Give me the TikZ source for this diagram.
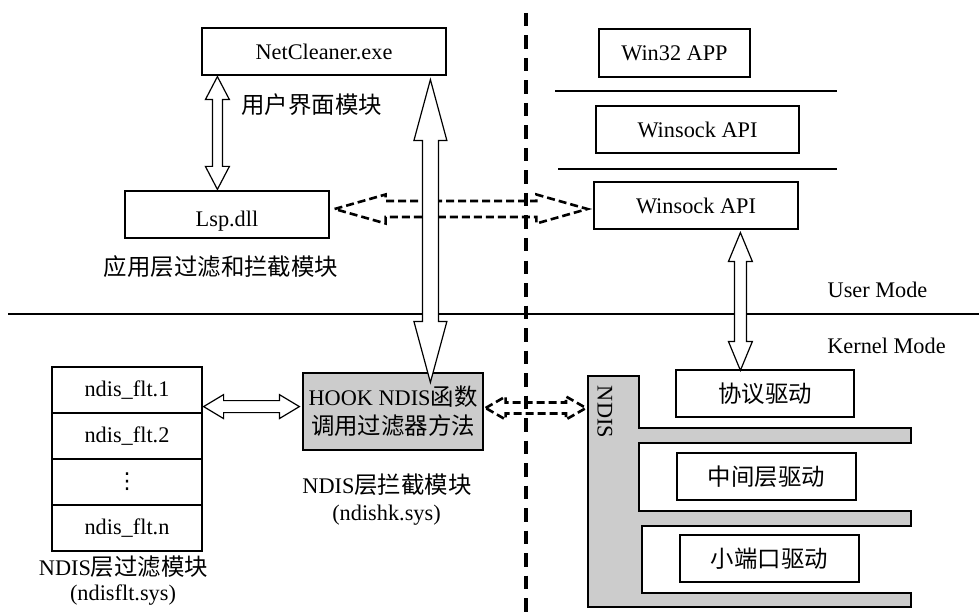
\documentclass[tikz,border=0pt]{standalone}
\usepackage{fontspec}
\setmainfont{Liberation Serif}
\newfontfamily\cjk[Scale=1.05]{Noto Sans CJK SC}
\newfontfamily\symf{DejaVu Sans}
\usetikzlibrary{calc}
\definecolor{boxgray}{RGB}{204,204,204}

% hollow double arrow, vertical: #2 upper tip, #3 lower tip,
% #4 half shaft width, #5 half head width, #6 head length
\newcommand\vhollow[6][]{%
  \draw[#1] let \p1=(#2), \p2=(#3) in
    (\x1,\y1) -- (\x1+#5pt,\y1-#6pt) -- (\x1+#4pt,\y1-#6pt)
    -- (\x1+#4pt,\y2+#6pt) -- (\x1+#5pt,\y2+#6pt) -- (\x1,\y2)
    -- (\x1-#5pt,\y2+#6pt) -- (\x1-#4pt,\y2+#6pt)
    -- (\x1-#4pt,\y1-#6pt) -- (\x1-#5pt,\y1-#6pt) -- cycle;}
% hollow double arrow, horizontal: #2 left tip, #3 right tip
\newcommand\hhollow[6][]{%
  \draw[#1] let \p1=(#2), \p2=(#3) in
    (\x1,\y1) -- (\x1+#6pt,\y1+#5pt) -- (\x1+#6pt,\y1+#4pt)
    -- (\x2-#6pt,\y1+#4pt) -- (\x2-#6pt,\y1+#5pt) -- (\x2,\y1)
    -- (\x2-#6pt,\y1-#5pt) -- (\x2-#6pt,\y1-#4pt)
    -- (\x1+#6pt,\y1-#4pt) -- (\x1+#6pt,\y1-#5pt) -- cycle;}

\begin{document}
\begin{tikzpicture}[x=1pt,y=-1pt,
  font=\fontsize{22.3}{26}\selectfont,
  box/.style={draw, line width=1.2pt, inner sep=0pt, minimum height=47pt},
  hollow/.style={draw, fill=white, line width=1.2pt, line join=miter},
  dashhollow/.style={draw, line width=2.6pt, dash pattern=on 8pt off 4pt},
  rule/.style={line width=1.1pt}]
\useasboundingbox (0,0) rectangle (979,612);

% ---- user mode, left side
\node[box, minimum width=244pt] (net) at (324,51.5) {NetCleaner.exe};
\node[box, minimum width=204pt] (lsp) at (227,214.5) {};
\node (lsptxt) at (227,221) {Lsp.dll};
\node[anchor=west] (uilabel) at (238,105) {\cjk 用户界面模块};
\node (applabel) at (221,267) {\cjk 应用层过滤和拦截模块};

% ---- user mode, right side
\node[box, minimum width=151pt, minimum height=48pt] (w32) at (674.5,53) {Win32 APP};
\node[box, minimum width=203pt] (ws1) at (697.5,129.5) {Winsock API};
\node[box, minimum width=204pt] (ws2) at (696,205.5) {Winsock API};
\coordinate (r1a) at (555,91);  \coordinate (r1b) at (837,91);
\coordinate (r2a) at (558,169); \coordinate (r2b) at (837,169);
\draw[rule] (r1a) -- (r1b);
\draw[rule] (r2a) -- (r2b);
\node (um) at (877.5,290) {User Mode};
\node (km) at (886.5,346) {Kernel Mode};

% ---- kernel mode: filter stack
\node[box, minimum width=150pt, minimum height=46pt] (f1) at (127,390) {ndis\_flt.1};
\node[box, minimum width=150pt, minimum height=46pt] (f2) at (127,436) {ndis\_flt.2};
\node[box, minimum width=150pt, minimum height=46pt] (f3) at (127,482)
      {\symf\fontsize{22}{22}\selectfont ⋮};
\node[box, minimum width=150pt, minimum height=46pt] (f4) at (127,528) {ndis\_flt.n};
\node (ndislabel) at (123.5,567) {NDIS{\cjk 层过滤模块}};
\node (ndisfile) at (123,595) {(ndisflt.sys)};

% ---- kernel mode: hook module
\node[box, fill=boxgray, minimum width=180pt, minimum height=77pt, align=center,
      font=\fontsize{22.3}{29}\selectfont] (hook) at (393,411.5)
      {HOOK NDIS{\cjk 函数}\\{\cjk 调用过滤器方法}};
\node (hooklabel) at (387,485) {NDIS{\cjk 层拦截模块}};
\node (hookfile) at (386.5,515) {(ndishk.sys)};

% ---- kernel mode: NDIS comb and drivers
\draw[fill=boxgray, line width=1.2pt]
  (588,376) -- (639,376) -- (639,428) -- (911,428) -- (911,443) -- (639,443)
  -- (639,511) -- (911,511) -- (911,526) -- (642,526) -- (642,593)
  -- (911,593) -- (911,607) -- (588,607) -- cycle;
\node[rotate=-90] (ndistxt) at (605,412) {NDIS};
\coordinate (ndisL) at (588,408);
\node[box, minimum width=178pt] (p1) at (765,393.5) {\cjk 协议驱动};
\node[box, minimum width=179pt] (p2) at (766.5,476.5) {\cjk 中间层驱动};
\node[box, minimum width=179pt] (p3) at (769.5,558.5) {\cjk 小端口驱动};

% ---- user / kernel separator
\coordinate (sepL) at (8,314);
\coordinate (sepR) at (979,314);
\draw[line width=2.6pt] (sepL) -- (sepR);

% ---- dashed hollow arrows
\coordinate (d1l) at ($(lsp.east)+(5,-5.5)$);
\coordinate (d1r) at ($(ws2.west)+(-6,3.5)$);
\hhollow[dashhollow]{d1l}{d1r}{8}{14.5}{51}
\coordinate (d2l) at ($(hook.east)+(2,-3.5)$);
\coordinate (d2r) at ($(ndisL)+(-2,0)$);
\hhollow[dashhollow]{d2l}{d2r}{5.5}{11.5}{20}

% ---- application / driver boundary
\coordinate (vtop) at (526,13);
\coordinate (vbot) at (526,612);
\draw[line width=3.6pt, dash pattern=on 13.5pt off 9pt] (vtop) -- (vbot);

% ---- solid hollow arrows
\coordinate (a1t) at ($(net.south west)+(16,1)$);
\coordinate (a1b) at ($(lsp.north west)+(93,-1)$);
\vhollow[hollow]{a1t}{a1b}{5}{12}{23}
\coordinate (a2t) at ($(net.south west)+(229,4)$);
\coordinate (a2b) at ($(hook.north west)+(128,10)$);
\vhollow[hollow]{a2t}{a2b}{8}{16.5}{61}
\coordinate (a3t) at ($(ws2.south west)+(147,3)$);
\coordinate (a3b) at ($(p1.north west)+(65,1)$);
\vhollow[hollow]{a3t}{a3b}{6}{12}{29}
\coordinate (a4l) at ($(f1.south east)+(1,-7)$);
\coordinate (a4r) at ($(hook.west)+(-3,-6.5)$);
\hhollow[hollow]{a4l}{a4r}{6}{12}{20}
\end{tikzpicture}
\end{document}
